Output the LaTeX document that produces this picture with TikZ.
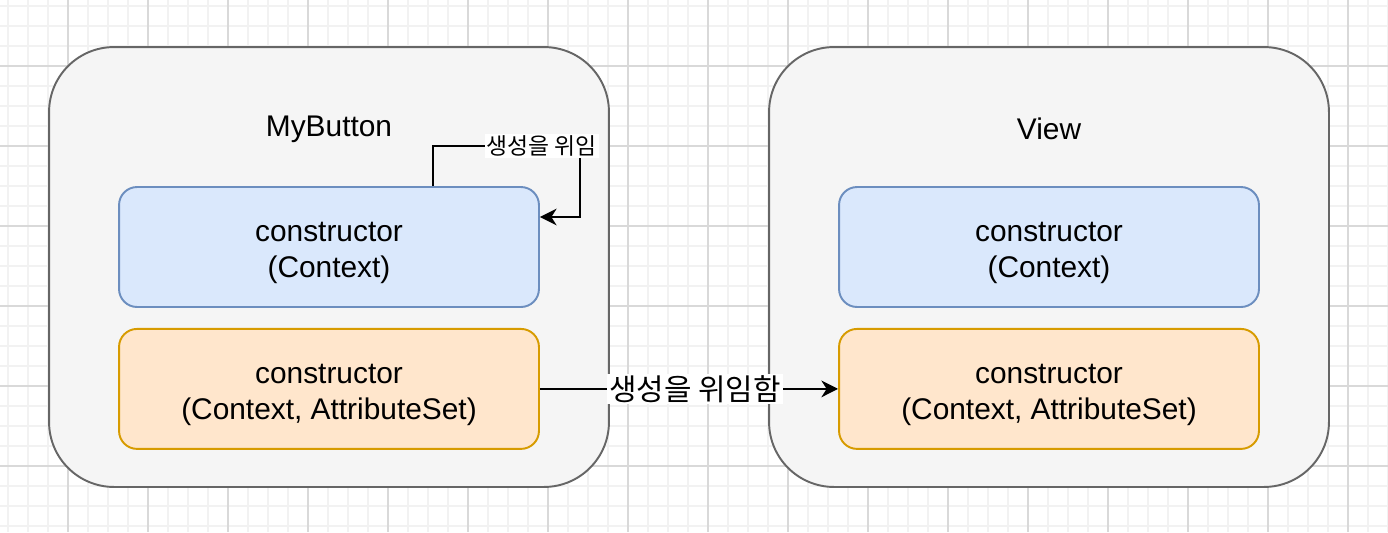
\documentclass[tikz,border=0pt]{standalone}
\usepackage{fontspec}
\setmainfont{Liberation Sans}
\newfontfamily\krfont{Noto Sans CJK KR}
\usepackage{tikz}
\usetikzlibrary{arrows.meta,positioning}
\usepackage{xcolor}
\definecolor{frameback}{HTML}{F5F5F5}
\definecolor{framedraw}{HTML}{666666}
\definecolor{ctorback}{HTML}{DAE8FC}
\definecolor{ctordraw}{HTML}{6C8EBF}
\definecolor{attrback}{HTML}{FFE6CC}
\definecolor{attrdraw}{HTML}{D79B00}
\definecolor{gridlight}{HTML}{F2F2F2}
\definecolor{griddark}{HTML}{D9D9D9}
\newcommand{\toppad}{\rule{0pt}{18pt}}

\begin{document}
\begin{tikzpicture}[
    x=0.02cm, y=-0.02cm,
    frame/.style={rectangle, draw=framedraw, fill=frameback, line width=1.1pt, rounded corners=1.3cm, minimum width=11.2cm, minimum height=8.8cm},
    ctor/.style={rectangle, draw=ctordraw, fill=ctorback, line width=1.1pt, rounded corners=0.36cm, minimum width=8.4cm, minimum height=2.4cm, align=center, font=\fontsize{17}{20.4}\selectfont},
    ctorattr/.style={ctor, draw=attrdraw, fill=attrback},
    title/.style={font=\fontsize{17}{20.4}\selectfont},
    link/.style={draw=black, line width=1.1pt, -{Stealth[length=9.5pt,width=9.5pt,inset=3pt]}},
    note/.style={fill=white, inner sep=1pt, font=\krfont\fontsize{13}{15}\selectfont},
    bignote/.style={fill=white, inner sep=1pt, font=\krfont\fontsize{17}{20}\selectfont}
]
    \useasboundingbox (0,0) rectangle (1388,532);
    \fill[white] (0,0) rectangle (1388,532);

    % grid
    \foreach \gx in {8,28,...,1388} \draw[gridlight, line width=1pt] (\gx,0) -- (\gx,532);
    \foreach \gy in {6,26,...,526} \draw[gridlight, line width=1pt] (0,\gy) -- (1388,\gy);
    \foreach \gx in {68,148,...,1348} \draw[griddark, line width=0.6pt] (\gx,0) -- (\gx,532);
    \foreach \gy in {66,146,...,466} \draw[griddark, line width=0.6pt] (0,\gy) -- (1388,\gy);

    \node[frame] (mybtn) at (329,267) {};
    \node[frame] (view) at (1049,267) {};

    \node[title] (mybtntitle) at (329,129) {MyButton};
    \node[title] (viewtitle) at (1049,129) {View};

    \node[ctor] (ctorone) at (329,247) {\toppad constructor\\(Context)};
    \node[ctorattr, below=0.4cm of ctorone] (ctortwo) {\toppad constructor\\(Context, AttributeSet)};
    \node[ctor] (viewone) at (1049,247) {\toppad constructor\\(Context)};
    \node[ctorattr, below=0.4cm of viewone] (viewtwo) {\toppad constructor\\(Context, AttributeSet)};

    \draw[link] ([xshift=2.08cm]ctorone.north) -- ++(0,0.8cm)
        -| node[note, pos=0.37] {생성을 위임} ([xshift=0.8cm,yshift=0.6cm]ctorone.east)
        -- ([yshift=0.6cm]ctorone.east);
    \draw[link] (ctortwo.east) -- node[bignote, pos=0.52] {생성을 위임함} (viewtwo.west);
\end{tikzpicture}
\end{document}
